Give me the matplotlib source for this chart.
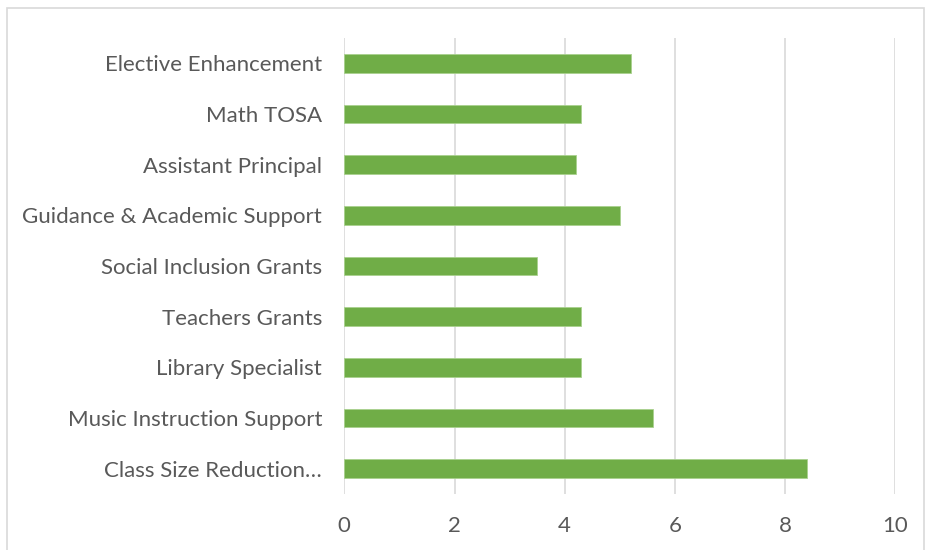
import matplotlib.pyplot as plt
from matplotlib.patches import Rectangle

# Categories listed top to bottom as in the chart
categories = [
    "Elective Enhancement",
    "Math TOSA",
    "Assistant Principal",
    "Guidance & Academic Support",
    "Social Inclusion Grants",
    "Teachers Grants",
    "Library Specialist",
    "Music Instruction Support",
    "Class Size Reduction…",
]
values = [5.2, 4.3, 4.2, 5.0, 3.5, 4.3, 4.3, 5.6, 8.4]
xticks = [0, 2, 4, 6, 8, 10]

plt.rcParams['font.family'] = ['Lato', 'DejaVu Sans']

fig = plt.figure(figsize=(9.26, 5.5), dpi=100)
ax = fig.add_axes([344.3 / 926, 1 - 494 / 550, 551 / 926, 456 / 550])

# outer chart border
fig.patches.append(Rectangle((7 / 926, -0.01), 917 / 926, 1 - 8 / 550 + 0.01,
                             transform=fig.transFigure, fill=False,
                             edgecolor="#D9D9D9", linewidth=1.2))

pos = list(range(len(categories)))
ax.barh(pos, values, height=0.37, color="#70AD47", edgecolor="#A9D18E", linewidth=0.6, zorder=3)

ax.set_ylim(len(categories) - 0.5, -0.5)
ax.set_xlim(0, 10)
ax.set_yticks(pos)
ax.set_yticklabels(categories)
ax.set_xticks(xticks)
ax.set_xticklabels([str(t) for t in xticks])

for s in ax.spines.values():
    s.set_visible(False)
ax.grid(axis="x", color="#D9D9D9", linewidth=1.2, zorder=0)
ax.tick_params(axis="y", length=0, pad=16, labelsize=16, labelcolor="#595959")
ax.tick_params(axis="x", length=0, pad=16, labelsize=16, labelcolor="#595959")

fig.savefig("out.png", dpi=100)
